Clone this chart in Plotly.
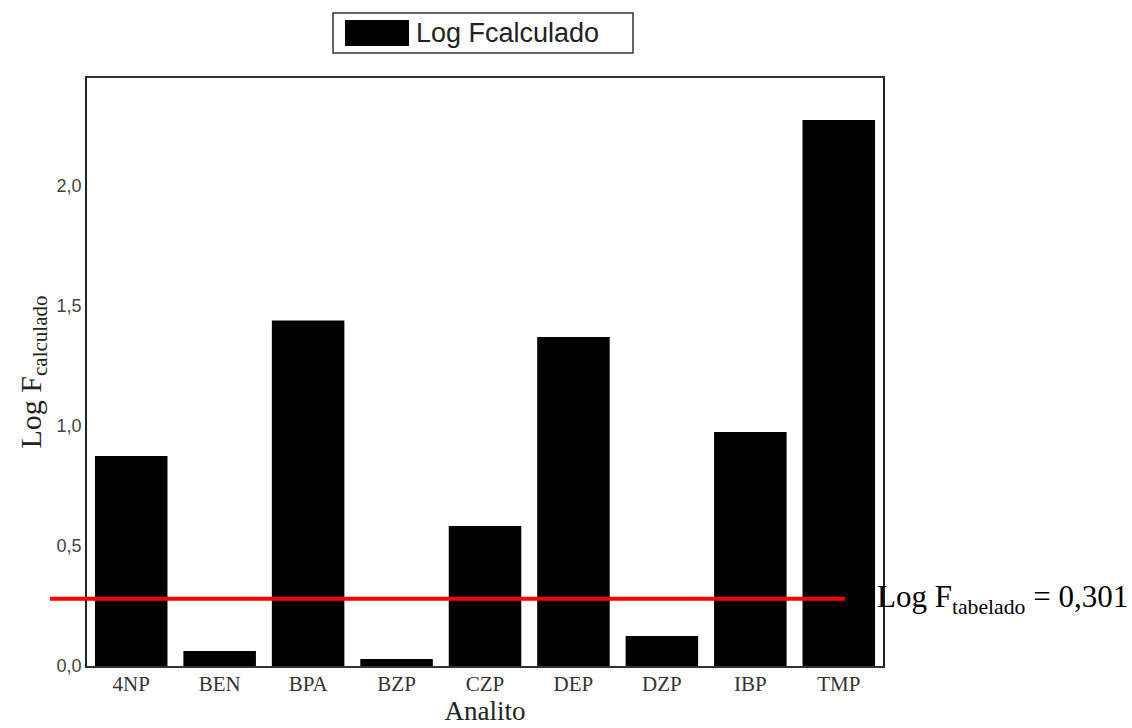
import plotly.graph_objects as go

categories = ["4NP", "BEN", "BPA", "BZP", "CZP", "DEP", "DZP", "IBP", "TMP"]
log_fcalc = [0.875, 0.062, 1.44, 0.029, 0.583, 1.371, 0.125, 0.975, 2.275]
ftab_line = 0.28
series_name = "Log Fcalculado"
ftab_label = "Log F<sub>tabelado</sub> = 0,301"
y_ticks = [0.0, 0.5, 1.0, 1.5, 2.0]

L, R, T, B = 87, 249, 78, 62
W, H = 1132, 728
pw, ph = W - L - R, H - T - B

def px(x):
    return (x - L) / pw

def py(y):
    return 1 + (T - y) / ph

fig = go.Figure()
fig.add_trace(go.Bar(
    x=categories, y=log_fcalc, name=series_name,
    marker=dict(color="black", line=dict(width=0)),
    showlegend=False,
))

serif = "Liberation Serif, Times New Roman, serif"
sans = "Liberation Sans, Arial, sans-serif"

fig.update_layout(
    width=W, height=H,
    margin=dict(l=L, r=R, t=T, b=B, pad=0, autoexpand=False),
    paper_bgcolor="white", plot_bgcolor="white",
    separators=",.",
    bargap=0.18,
    xaxis=dict(
        showline=True, linecolor="#333", linewidth=1.5, mirror=True,
        ticks="", showgrid=False, automargin=False, ticklabelstandoff=-2,
        tickfont=dict(family=serif, size=21, color="#333"),
        title=dict(text="Analito", font=dict(family=serif, size=27, color="#222"), standoff=0),
    ),
    yaxis=dict(
        range=[0, 2.45],
        showline=True, linecolor="#222", linewidth=1.5, mirror=True,
        ticks="", showgrid=False, zeroline=False, automargin=False,
        tickvals=y_ticks, tickformat=".1f",
        tickfont=dict(family=sans, size=18, color="#444"),
        title=dict(text="Log F<sub>calculado</sub>", font=dict(family=serif, size=30, color="#222"), standoff=6),
    ),
    font=dict(family=sans),
)

# threshold line
fig.add_shape(type="line", xref="paper", yref="y",
              x0=px(50), x1=px(845), y0=ftab_line, y1=ftab_line,
              line=dict(color="#ff0000", width=4), layer="above")
fig.add_annotation(text=ftab_label, xref="paper", yref="y",
                   x=px(875), y=ftab_line, xanchor="left", yanchor="middle",
                   showarrow=False, font=dict(family=serif, size=31, color="black"))

# custom legend
fig.add_shape(type="rect", xref="paper", yref="paper",
              x0=px(333), x1=px(633), y0=py(53), y1=py(13),
              line=dict(color="#333", width=1.5), fillcolor="white")
fig.add_shape(type="rect", xref="paper", yref="paper",
              x0=px(345), x1=px(409), y0=py(46), y1=py(20),
              line=dict(width=0), fillcolor="black")
fig.add_annotation(text=series_name, xref="paper", yref="paper",
                   x=px(414), y=py(33), xanchor="left", yanchor="middle",
                   showarrow=False, font=dict(family=sans, size=27, color="#222"))

fig.write_html("out.html")
